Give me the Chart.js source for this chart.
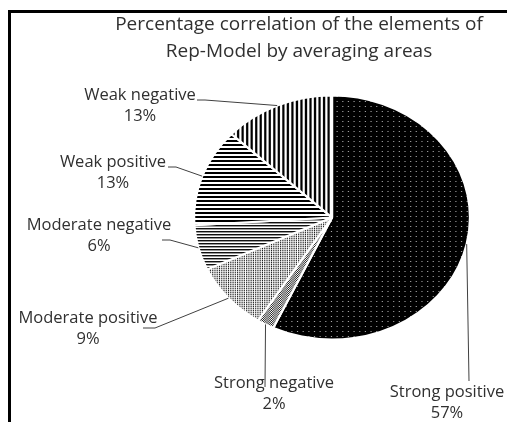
<!DOCTYPE html>
<html>
<head>
<meta charset="utf-8">
<script src="https://cdn.jsdelivr.net/npm/chart.js@4"></script>
<style>
  html, body { margin: 0; padding: 0; background: #fff; }
  #wrap { position: relative; width: 507px; height: 422px; }
</style>
</head>
<body>
<div id="wrap"><canvas id="pie"></canvas></div>
<script>
// ---- Data ----
const categories = ['Strong positive', 'Strong negative', 'Moderate positive', 'Moderate negative', 'Weak positive', 'Weak negative'];
const percents   = [57, 2, 9, 6, 13, 13];
const titleLines = ['Percentage correlation of the elements of', 'Rep-Model by averaging areas'];

// ---- Layout (label text centres and leader elbows) ----
const labelLayout = [
  { x: 447, y: 392, path: [[469, 381]] },
  { x: 274, y: 383, path: [[265, 387]] },
  { x: 88,  y: 318, path: [[143, 328], [155, 328]] },
  { x: 99,  y: 225, path: [[162, 240], [170, 240]] },
  { x: 113, y: 162, path: [[168, 167], [176, 167]] },
  { x: 140, y: 95,  path: [[197, 100], [205, 100]] }
];
const STRETCH_X = 138 / 122;

// ---- Fill patterns ----
function makePattern(w, h, draw) {
  const c = document.createElement('canvas');
  c.width = w; c.height = h;
  const g = c.getContext('2d');
  draw(g);
  return g.createPattern(c, 'repeat');
}
const patterns = [
  // black with white dots
  makePattern(10, 10, g => { g.fillStyle = '#000'; g.fillRect(0, 0, 10, 10); g.fillStyle = '#aaa'; g.fillRect(1, 1, 1, 1); g.fillRect(6, 6, 1, 1); g.fillRect(6, 1, 1, 1); g.fillRect(1, 6, 1, 1); }),
  // checker gray
  makePattern(2, 2, g => { g.fillStyle = '#fff'; g.fillRect(0, 0, 2, 2); g.fillStyle = '#222'; g.fillRect(0, 0, 1, 1); g.fillRect(1, 1, 1, 1); }),
  // light dotted
  makePattern(2, 2, g => { g.fillStyle = '#fff'; g.fillRect(0, 0, 2, 2); g.fillStyle = '#222'; g.fillRect(0, 0, 1, 1); g.fillStyle = '#aaa'; g.fillRect(0, 1, 1, 1); }),
  // dense horizontal lines
  makePattern(1, 3, g => { g.fillStyle = '#fff'; g.fillRect(0, 0, 1, 3); g.fillStyle = '#111'; g.fillRect(0, 0, 1, 1); g.fillStyle = '#999'; g.fillRect(0, 1, 1, 1); }),
  // horizontal stripes
  makePattern(1, 4, g => { g.fillStyle = '#fff'; g.fillRect(0, 0, 1, 4); g.fillStyle = '#000'; g.fillRect(0, 0, 1, 2); }),
  // vertical stripes
  makePattern(4, 1, g => { g.fillStyle = '#fff'; g.fillRect(0, 0, 4, 1); g.fillStyle = '#000'; g.fillRect(0, 0, 2, 1); })
];

// ---- Plugin: elliptical pie, frame, title, labels ----
const excelPie = {
  id: 'excelPie',
  beforeDraw(chart) {
    const ctx = chart.ctx;
    ctx.save();
    ctx.strokeStyle = '#000';
    ctx.lineWidth = 3;
    ctx.beginPath();
    ctx.moveTo(9.5, 430); ctx.lineTo(9.5, 11.5); ctx.lineTo(520, 11.5);
    ctx.stroke();
    ctx.restore();
  },
  beforeDatasetsDraw(chart) {
    const a = chart.getDatasetMeta(0).data[0];
    const ctx = chart.ctx;
    ctx.save();
    ctx.translate(a.x, a.y);
    ctx.scale(STRETCH_X, 1);
    ctx.translate(-a.x, -a.y);
  },
  afterDatasetsDraw(chart) {
    chart.ctx.restore();
  },
  afterDraw(chart) {
    const ctx = chart.ctx;
    const arcs = chart.getDatasetMeta(0).data;
    ctx.save();
    ctx.fillStyle = '#303030';
    ctx.textAlign = 'center';
    ctx.textBaseline = 'middle';
    ctx.font = '19px "Open Sans"';
    titleLines.forEach((t, i) => ctx.fillText(t, 299, 25 + i * 27));

    ctx.font = '16.5px "Open Sans"';
    arcs.forEach((arc, i) => {
      const mid = (arc.startAngle + arc.endAngle) / 2;
      const px = arc.x + Math.cos(mid) * arc.outerRadius * STRETCH_X;
      const py = arc.y + Math.sin(mid) * arc.outerRadius;
      const L = labelLayout[i];
      ctx.strokeStyle = '#404040';
      ctx.lineWidth = 1;
      ctx.beginPath();
      ctx.moveTo(L.path[0][0], L.path[0][1]);
      L.path.slice(1).forEach(p => ctx.lineTo(p[0], p[1]));
      ctx.lineTo(px, py);
      ctx.stroke();
      ctx.fillText(categories[i], L.x, L.y);
      ctx.fillText(percents[i] + '%', L.x, L.y + 21);
    });
    ctx.restore();
  }
};

new Chart(document.getElementById('pie'), {
  type: 'pie',
  data: {
    labels: categories,
    datasets: [{
      data: percents,
      backgroundColor: patterns,
      borderColor: '#fff',
      borderWidth: 2,
      hoverOffset: 0,
      radius: 122
    }]
  },
  options: {
    responsive: true,
    maintainAspectRatio: false,
    animation: false,
    events: [],
    layout: { padding: { top: 95.5, bottom: 82.5, left: 210, right: 53 } },
    plugins: {
      legend: { display: false },
      tooltip: { enabled: false },
      title: { display: false }
    }
  },
  plugins: [excelPie]
});
</script>
</body>
</html>
